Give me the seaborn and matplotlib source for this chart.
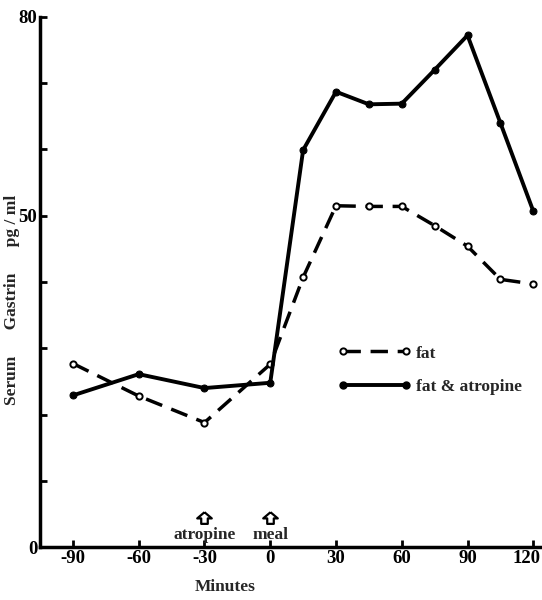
import pandas as pd
import matplotlib.pyplot as plt
import matplotlib.transforms as mtransforms
import seaborn as sns
from matplotlib.lines import Line2D

# minutes relative to the meal
minutes = [-90, -60, -30, 0, 15, 30, 45, 60, 75, 90, 105, 120]
fat = [27.7, 22.8, 18.8, 27.6, 40.7, 51.5, 51.4, 51.4, 48.5, 45.4, 40.4, 39.7]
fat_atropine = [22.9, 26.1, 24.0, 24.8, 59.9, 68.7, 66.8, 66.9, 72.0, 77.2, 64.0, 50.7]

x_ticks = [-90, -60, -30, 0, 30, 60, 90, 120]
x_labels = ["-90", "-60", "-30", "0", "30", "60", "90", "120"]
y_ticks = [0, 10, 20, 30, 40, 50, 60, 70, 80]
y_labels = ["0", "", "", "", "", "50", "", "", "80"]

events = ["atropine", "meal"]
event_times = [-30, 0]

# little upward "house" arrow drawn above each event label
ARROW = [(0, 1), (1, 0.15), (0.45, 0.15), (0.45, -0.6), (-0.45, -0.6),
         (-0.45, 0.15), (-1, 0.15), (0, 1)]


def main():
    sns.set_style("white")
    plt.rcParams["font.family"] = ["Liberation Serif", "DejaVu Sans"]
    plt.rcParams["font.weight"] = "bold"

    df = pd.DataFrame({"min": minutes, "fat": fat, "fat_atr": fat_atropine})

    fig = plt.figure(figsize=(5.42, 6.0), dpi=100)
    ax = fig.add_axes([0.074, 0.088, 0.922, 0.884])

    sns.lineplot(data=df, x="min", y="fat", ax=ax, color="black", lw=2.5,
                 linestyle=(0, (5, 2.8)), marker="o", markersize=4.5,
                 markerfacecolor="white", markeredgecolor="black",
                 markeredgewidth=1.4)
    sns.lineplot(data=df, x="min", y="fat_atr", ax=ax, color="black", lw=2.8,
                 marker="o", markersize=5, markerfacecolor="black",
                 markeredgecolor="black")

    ax.set_xlim(-105, 123)
    ax.set_ylim(0, 80)
    ax.set_xticks(x_ticks)
    ax.set_xticklabels(x_labels)
    ax.set_yticks(y_ticks)
    ax.set_yticklabels(y_labels)
    ax.tick_params(direction="in", length=5, width=2, labelsize=13.5, pad=2,
                   bottom=True, left=True, colors="black")
    for lab in ax.get_xticklabels() + ax.get_yticklabels():
        lab.set_fontweight("bold")
    # the last label sits tight against the edge, nudge it left
    last = ax.get_xticklabels()[-1]
    last.set_transform(last.get_transform() +
                       mtransforms.ScaledTranslation(-5 / 72, 0, fig.dpi_scale_trans))

    sns.despine(ax=ax)
    for side in ["left", "bottom"]:
        ax.spines[side].set_linewidth(2.5)
        ax.spines[side].set_color("black")

    ax.set_xlabel("")
    ax.set_ylabel("Serum      Gastrin      pg / ml", fontsize=12.5, fontweight="bold")
    ax.yaxis.set_label_coords(-0.04, 0.467)
    ax.text(0.37, -0.075, "Minutes", transform=ax.transAxes, fontsize=12.5,
            fontweight="bold", ha="center", va="center")

    # treatment markers above the axis
    for name, t in zip(events, event_times):
        ax.text(t, 1.9, name, fontsize=12.5, fontweight="bold", ha="center",
                va="center")
    ax.scatter(event_times, [4.2, 4.2], marker=ARROW, s=110, facecolor="white",
               edgecolor="black", linewidth=1.6, zorder=3)

    handles = [
        Line2D([], [], color="black", lw=2.5, linestyle=(0, (5, 2.8)), marker="o",
               markersize=4.5, markerfacecolor="white", markeredgewidth=1.4),
        Line2D([], [], color="black", lw=2.8, marker="o", markersize=5,
               markerfacecolor="black"),
    ]
    ax.legend(handles, ["fat", "fat & atropine"], loc="upper left",
              bbox_to_anchor=(0.565, 0.41), frameon=False, numpoints=2,
              handlelength=4.2, handletextpad=0.3, labelspacing=1.0,
              prop={"size": 12.5, "weight": "bold"})

    fig.savefig("out.png", dpi=100)
    plt.close(fig)


if __name__ == "__main__":
    main()
